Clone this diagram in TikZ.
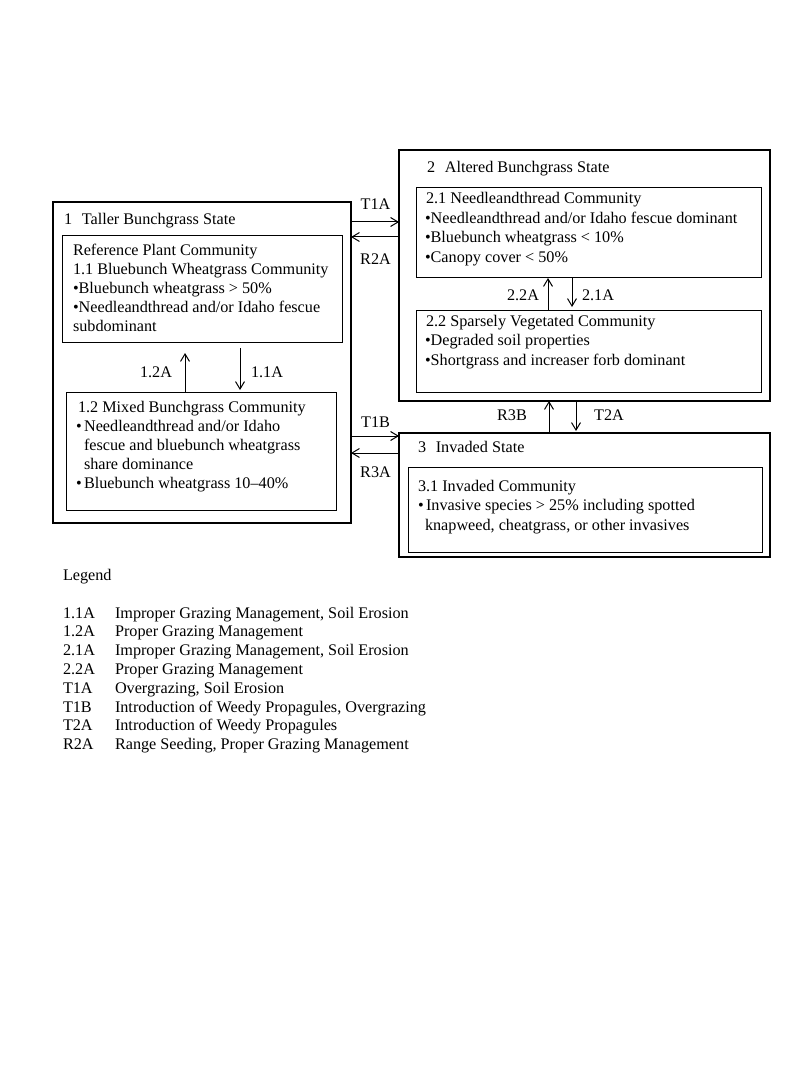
\documentclass[tikz,border=0pt]{standalone}
\usepackage{fontspec}
\setmainfont{Liberation Serif}
\usetikzlibrary{arrows.meta}
\begin{document}
\begin{tikzpicture}[x=1pt,y=-1pt,
  txt/.style={anchor=base west,inner sep=0pt,outer sep=0pt,font=\fontsize{16.2}{19}\selectfont},
  lbl/.style={anchor=base,inner sep=0pt,outer sep=0pt,font=\fontsize{16.2}{19}\selectfont},
  outerbox/.style={draw,line width=2pt,anchor=north west,inner sep=0pt,outer sep=0pt},
  innerbox/.style={draw,line width=0.9pt,anchor=north west,inner sep=0pt,outer sep=0pt},
  arr/.style={line width=1pt,-{Straight Barb[length=7.5pt,width=9pt,line width=1pt]}}]
\fill[white] (0,0) rectangle (800,1067);
\useasboundingbox (0,0) rectangle (800,1067);

% boxes
\node[outerbox,minimum width=298pt,minimum height=321pt] (b1) at (53,202) {};
\node[innerbox,minimum width=280pt,minimum height=107pt] (b11) at (62,235) {};
\node[innerbox,minimum width=270pt,minimum height=118pt] (b12) at (66,392) {};
\node[outerbox,minimum width=371pt,minimum height=251pt] (b2) at (399,150) {};
\node[innerbox,minimum width=345pt,minimum height=90pt] (b21) at (416,187) {};
\node[innerbox,minimum width=345pt,minimum height=82pt] (b22) at (416,310) {};
\node[outerbox,minimum width=371pt,minimum height=124pt] (b3) at (399,433) {};
\node[innerbox,minimum width=354pt,minimum height=85pt] (b31) at (408,467) {};

% box 1 text
\node[txt] (t1) at (64,225) {1\hspace{0.6em}Taller Bunchgrass State};
\node[txt] (t11a) at (73,255) {Reference Plant Community};
\node[txt] (t11b) at (73,274) {1.1 Bluebunch Wheatgrass Community};
\node[txt] (t11c) at (73,293) {•Bluebunch wheatgrass > 50\%};
\node[txt] (t11d) at (73,312.5) {•Needleandthread and/or Idaho fescue};
\node[txt] (t11e) at (73,331.5) {subdominant};
\node[txt] (t12a) at (78,412) {1.2 Mixed Bunchgrass Community};
\node[txt] (t12b) at (76,431) {•\hspace{0.15em}Needleandthread and/or Idaho};
\node[txt] (t12c) at (84,450) {fescue and bluebunch wheatgrass};
\node[txt] (t12d) at (84,469) {share dominance};
\node[txt] (t12e) at (76,488) {•\hspace{0.15em}Bluebunch wheatgrass 10–40\%};

% box 2 text
\node[txt] (t2) at (427,173) {2\hspace{0.6em}Altered Bunchgrass State};
\node[txt] (t21a) at (426,204) {2.1 Needleandthread Community};
\node[txt] (t21b) at (425,223.5) {•Needleandthread and/or Idaho fescue dominant};
\node[txt] (t21c) at (425,243) {•Bluebunch wheatgrass < 10\%};
\node[txt] (t21d) at (425,262.5) {•Canopy cover < 50\%};
\node[txt] (t22a) at (426,326) {2.2 Sparsely Vegetated Community};
\node[txt] (t22b) at (425,345.5) {•Degraded soil properties};
\node[txt] (t22c) at (425,365) {•Shortgrass and increaser forb dominant};

% box 3 text
\node[txt] (t3) at (418,452) {3\hspace{0.6em}Invaded State};
\node[txt] (t31a) at (418,491) {3.1 Invaded Community};
\node[txt] (t31b) at (418,510) {•\hspace{0.15em}Invasive species > 25\% including spotted};
\node[txt] (t31c) at (425,530) {knapweed, cheatgrass, or other invasives};

% transitions between states
\draw[arr] (b1.east |- 0,222) -- (b2.west |- 0,222);
\draw[arr] (b2.west |- 0,237) -- (b1.east |- 0,237);
\draw[arr] (b1.east |- 0,436) -- (b3.west |- 0,436);
\draw[arr] (b3.west |- 0,453) -- (b1.east |- 0,453);
\draw[arr] (b3.north -| 549,0) -- (b2.south -| 549,0);
\draw[arr] (b2.south -| 576,0) -- ([yshift=2pt]b3.north -| 576,0);

% within-state pathways
\draw[arr] (b12.north -| 185,0) -- ([yshift=-11pt]b11.south -| 185,0);
\draw[arr] ([yshift=-6pt]b11.south -| 240,0) -- ([yshift=2pt]b12.north -| 240,0);
\draw[arr] (b22.north -| 548,0) -- ([yshift=-1pt]b21.south -| 548,0);
\draw[arr] (b21.south -| 572,0) -- ([yshift=3pt]b22.north -| 572,0);

% arrow labels
\node[lbl] (lT1A) at (375.5,210) {T1A};
\node[lbl] (lR2A) at (375.5,265) {R2A};
\node[lbl] (lT1B) at (375.5,427) {T1B};
\node[lbl] (lR3A) at (375.5,477) {R3A};
\node[lbl] (lR3B) at (512,420) {R3B};
\node[lbl] (lT2A) at (609,420) {T2A};
\node[txt,anchor=base east] (l12A) at (172,377) {1.2A};
\node[txt] (l11A) at (251,377) {1.1A};
\node[txt,anchor=base east] (l22A) at (539,300) {2.2A};
\node[txt] (l21A) at (582,300) {2.1A};

% legend
\node[txt] (lg) at (63,580) {Legend};
\foreach \i/\c/\d in {0/1.1A/{Improper Grazing Management, Soil Erosion},
  1/1.2A/{Proper Grazing Management},
  2/2.1A/{Improper Grazing Management, Soil Erosion},
  3/2.2A/{Proper Grazing Management},
  4/T1A/{Overgrazing, Soil Erosion},
  5/T1B/{Introduction of Weedy Propagules, Overgrazing},
  6/T2A/{Introduction of Weedy Propagules},
  7/R2A/{Range Seeding, Proper Grazing Management}}{
  \node[txt] (lc\i) at (63,618+18.8*\i) {\c};
  \node[txt] (ld\i) at (115,618+18.8*\i) {\d};
}
\end{tikzpicture}
\end{document}
